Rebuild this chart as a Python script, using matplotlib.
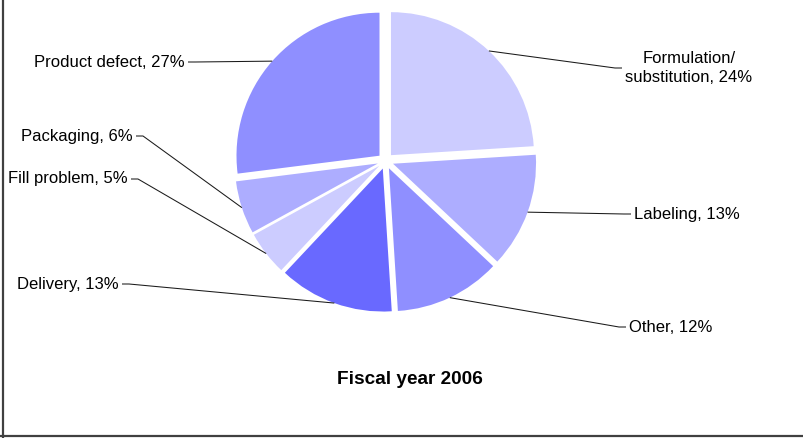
import matplotlib
matplotlib.use("Agg")
import matplotlib.pyplot as plt
from matplotlib.lines import Line2D
import numpy as np

# Complaint categories, fiscal year 2006 (clockwise from 12 o'clock)
categories = ["Formulation/\nsubstitution", "Labeling", "Other", "Delivery",
              "Fill problem", "Packaging", "Product defect"]
shares = [24, 13, 12, 13, 5, 6, 27]
colors = ["#CCCCFF", "#ADADFF", "#8F8FFF", "#6969FF",
          "#CCCCFF", "#ADADFF", "#8F8FFF"]
title = "Fiscal year 2006"

plt.rcParams['font.family'] = ['Liberation Sans', 'DejaVu Sans']

W, H = 804, 438          # canvas in pixels
R = 143.0                # pie radius in pixels
GAP = 8.0                # radial offset of every slice, pixels

fig = plt.figure(figsize=(W / 100, H / 100), dpi=100)
ax = fig.add_axes([0, 0, 1, 1])


def P(x, y):
    """pixel position (origin top-left) -> data coordinates"""
    return (x / R, (H - y) / R)


wedges, _ = ax.pie(shares, colors=colors, startangle=90, counterclock=False,
                   center=P(385.5, 161), radius=1.0,
                   explode=[GAP / R] * len(shares),
                   wedgeprops=dict(linewidth=0))
ax.set_xlim(0, W / R)
ax.set_ylim(0, H / R)
ax.set_aspect('equal')
ax.axis('off')

# label placement: (text x, text y, alignment, leader end x, leader end y)
label_layout = [
    (689, 68, 'center', 622, 68),
    (634, 215, 'left', 631, 214),
    (629, 327, 'left', 626, 327),
    (119, 284, 'right', 122, 284),
    (128, 179, 'right', 131, 179),
    (133, 136, 'right', 136, 136),
    (185, 62, 'right', 188, 62),
]

for w, cat, val, (tx, ty, ha, lx, ly) in zip(wedges, categories, shares, label_layout):
    mid = np.deg2rad(0.5 * (w.theta1 + w.theta2))
    cx, cy = w.center
    ax_x = cx + w.r * np.cos(mid)
    ax_y = cy + w.r * np.sin(mid)
    ex, ey = P(lx, ly)
    step = 7 / R * (1 if ax_x > ex else -1)
    ax.plot([ax_x, ex + step, ex], [ax_y, ey, ey], color='#1a1a1a', lw=0.75,
            solid_capstyle='butt')
    ax.text(*P(tx, ty), f"{cat}, {val}%", ha=ha, va='center',
            multialignment='center', fontsize=12, color='black',
            linespacing=1.38)

ax.text(*P(410, 380), title, ha='center', va='center', fontsize=13.7,
        fontweight='bold', color='black')

# chart-area frame on the left and bottom
fig.add_artist(Line2D([3.5 / W, 3.5 / W], [0, 1], color='#404040', lw=1.6,
                      transform=fig.transFigure))
fig.add_artist(Line2D([0, 1], [(H - 435.5) / H, (H - 435.5) / H],
                      color='#404040', lw=1.6, transform=fig.transFigure))

fig.savefig("out.png", dpi=100)
